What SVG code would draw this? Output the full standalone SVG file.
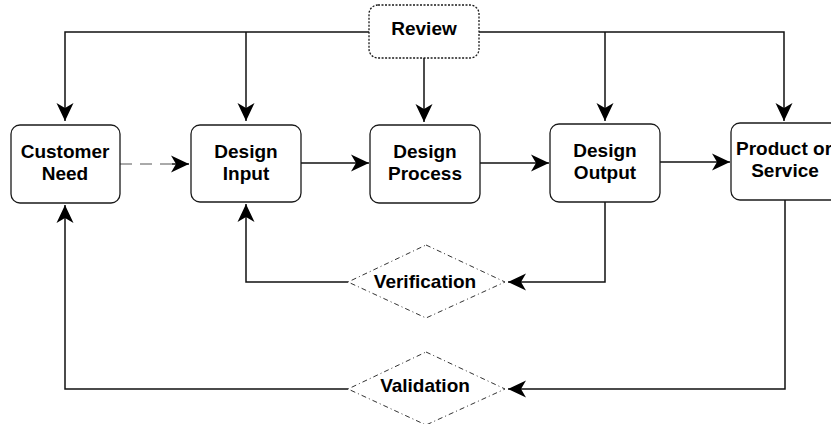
<svg xmlns="http://www.w3.org/2000/svg" width="831" height="424" viewBox="0 0 831 424">
  <style>
    .box { fill: #ffffff; stroke: #1a1a1a; stroke-width: 1.3; }
    .review { fill: #ffffff; stroke: #1a1a1a; stroke-width: 1.3; stroke-dasharray: 2,1.5; }
    .dia { fill: #ffffff; stroke: #333333; stroke-width: 1; stroke-dasharray: 5,3,1,3; }
    .lbl { font-family: "Liberation Sans", Arial, sans-serif; font-weight: bold; font-size: 19px; fill: #000000; text-anchor: middle; }
    .conn { fill: none; stroke: #111111; stroke-width: 1.5; }
    .dash { fill: none; stroke: #555555; stroke-width: 1; stroke-dasharray: 12,8; }
  </style>
  <defs>
    <marker id="arr" markerUnits="userSpaceOnUse" markerWidth="20" markerHeight="20" viewBox="-19 -10 20 20" refX="0" refY="0" orient="auto">
      <path d="M0,0 L-18,-8.5 L-13,0 L-18,8.5 Z" fill="#000000"/>
    </marker>
  </defs>
  <rect width="831" height="424" fill="#ffffff"/>

  <g id="connectors">
    <path class="conn" d="M369,32 H65 V121" marker-end="url(#arr)"/>
    <path class="conn" d="M246,32 V121" marker-end="url(#arr)"/>
    <path class="conn" d="M424,58 V122" marker-end="url(#arr)"/>
    <path class="conn" d="M479,32 H784 V121" marker-end="url(#arr)"/>
    <path class="conn" d="M605,32 V121" marker-end="url(#arr)"/>
    <path class="dash" d="M120,164 H172"/>
    <path class="conn" d="M172,164 H189" marker-end="url(#arr)"/>
    <path class="conn" d="M301,163 H369" marker-end="url(#arr)"/>
    <path class="conn" d="M480,163 H549" marker-end="url(#arr)"/>
    <path class="conn" d="M660,162 H730" marker-end="url(#arr)"/>
    <path class="conn" d="M605,202 V282 H508" marker-end="url(#arr)"/>
    <path class="conn" d="M348,282 H246 V204" marker-end="url(#arr)"/>
    <path class="conn" d="M785,200 V389 H508" marker-end="url(#arr)"/>
    <path class="conn" d="M348,389 H65 V205" marker-end="url(#arr)"/>
  </g>

  <g id="review">
    <rect class="review" x="369" y="5" width="110" height="53" rx="9"/>
    <text class="lbl" x="424" y="35">Review</text>
  </g>
  <g id="customer-need">
    <rect class="box" x="11" y="125" width="109" height="78" rx="9"/>
    <text class="lbl" x="65" y="158">Customer</text>
    <text class="lbl" x="65" y="180">Need</text>
  </g>
  <g id="design-input">
    <rect class="box" x="191" y="125" width="110" height="77" rx="9"/>
    <text class="lbl" x="246" y="158">Design</text>
    <text class="lbl" x="246" y="180">Input</text>
  </g>
  <g id="design-process">
    <rect class="box" x="370" y="125" width="110" height="78" rx="9"/>
    <text class="lbl" x="425" y="158">Design</text>
    <text class="lbl" x="425" y="180">Process</text>
  </g>
  <g id="design-output">
    <rect class="box" x="550" y="124" width="110" height="78" rx="9"/>
    <text class="lbl" x="605" y="157">Design</text>
    <text class="lbl" x="605" y="179">Output</text>
  </g>
  <g id="product-or-service">
    <rect class="box" x="731" y="123" width="110" height="77" rx="9"/>
    <text class="lbl" x="784" y="155">Product or</text>
    <text class="lbl" x="785" y="177">Service</text>
  </g>
  <g id="verification">
    <polygon class="dia" points="426,245 505,282 426,318 348,282"/>
    <text class="lbl" x="425" y="288">Verification</text>
  </g>
  <g id="validation">
    <polygon class="dia" points="426,352 505,389 426,425 348,389"/>
    <text class="lbl" x="425" y="392">Validation</text>
  </g>
</svg>
